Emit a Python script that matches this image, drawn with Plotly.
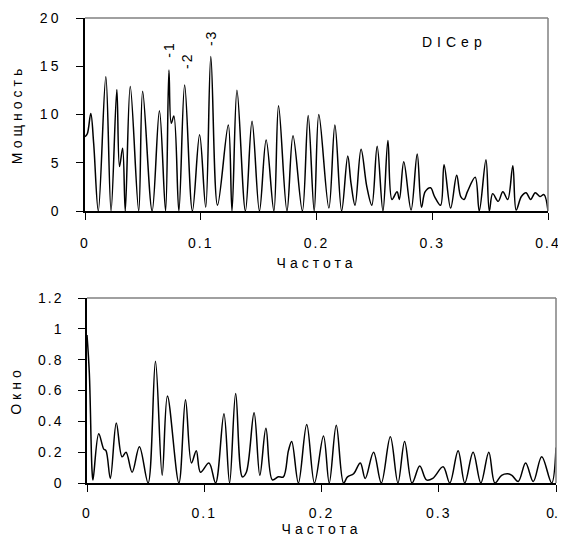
import plotly.graph_objects as go

# ---- Top panel: power spectrum (Мощность vs Частота) ----
freq_top = [0.000, 0.002, 0.005, 0.0075, 0.0115, 0.018, 0.0225, 0.0275, 0.0298, 0.0325,
            0.0348, 0.0391, 0.0464, 0.0498, 0.0580, 0.0643, 0.0696, 0.0725, 0.0745, 0.0768,
            0.0811, 0.0861, 0.0928, 0.0990, 0.1043, 0.1087, 0.1145, 0.1238, 0.1270, 0.1313,
            0.1386, 0.1443, 0.1507, 0.1565, 0.1632, 0.1672, 0.1745, 0.1797, 0.1878, 0.1928,
            0.1980, 0.2020, 0.2107, 0.2159, 0.2217, 0.2270, 0.2298, 0.2333, 0.2385, 0.2435,
            0.2478, 0.2524, 0.2574, 0.2617, 0.2652, 0.2696, 0.2716, 0.2754, 0.2817, 0.2870,
            0.2907, 0.2939, 0.2985, 0.3020, 0.3072, 0.3102, 0.3159, 0.3211, 0.3246, 0.3275,
            0.3304, 0.3371, 0.3406, 0.3464, 0.3493, 0.3522, 0.3570, 0.3610, 0.3652, 0.3696,
            0.3725, 0.3770, 0.3810, 0.3850, 0.3890, 0.3930, 0.3965, 0.4000]
power_top = [7.7, 8.0, 10.1, 7.0, 0.0, 13.9, 0.0, 12.6, 4.6, 6.5,
             0.0, 12.9, 0.0, 12.4, 0.0, 10.4, 0.0, 14.6, 9.1, 9.85,
             0.0, 13.05, 0.0, 7.9, 0.4, 16.0, 0.6, 8.9, 0.0, 12.5,
             0.0, 9.3, 0.0, 7.35, 0.0, 10.9, 0.0, 7.8, 0.0, 9.9,
             0.0, 10.0, 0.3, 8.9, 0.0, 5.7, 2.9, 0.6, 6.4, 2.5,
             0.6, 6.7, 0.0, 7.3, 1.2, 2.0, 1.2, 5.1, 0.1, 5.9,
             0.4, 2.0, 2.4, 1.5, 0.6, 4.8, 0.3, 3.7, 1.5, 1.2,
             2.0, 3.5, 0.0, 5.3, 0.0, 1.8, 1.0, 2.0, 1.2, 4.7,
             0.1, 1.5, 1.9, 1.2, 1.9, 1.5, 1.7, 0.0]

# ---- Bottom panel: spectral window (Окно vs Частота) ----
freq_win = [0.000, 0.002, 0.0043, 0.0051, 0.0100, 0.0143, 0.0162, 0.0199, 0.0250, 0.0299,
            0.0333, 0.0385, 0.0447, 0.0521, 0.0584, 0.0641, 0.0686, 0.0784, 0.0840, 0.0891,
            0.0932, 0.0968, 0.1040, 0.1097, 0.1168, 0.1216, 0.1268, 0.1325, 0.1359, 0.1425,
            0.1474, 0.1526, 0.1581, 0.1632, 0.1675, 0.1718, 0.1746, 0.1803, 0.1874, 0.1940,
            0.2017, 0.2066, 0.2126, 0.2188, 0.2222, 0.2274, 0.2331, 0.2373, 0.2444, 0.2510,
            0.2587, 0.2652, 0.2709, 0.2772, 0.2838, 0.2895, 0.2949, 0.3037, 0.3094, 0.3165,
            0.3222, 0.3293, 0.3359, 0.3427, 0.3479, 0.3536, 0.3590, 0.3624, 0.3678, 0.3741,
            0.3806, 0.3878, 0.3963, 0.4000]
window_vals = [0.96, 0.71, 0.08, 0.02, 0.32, 0.22, 0.21, 0.03, 0.39, 0.17,
               0.20, 0.07, 0.235, 0.0, 0.79, 0.05, 0.565, 0.0, 0.54, 0.13,
               0.21, 0.07, 0.13, 0.0, 0.45, 0.0, 0.58, 0.04, 0.07, 0.455,
               0.05, 0.355, 0.02, 0.04, 0.04, 0.21, 0.27, 0.0, 0.38, 0.0,
               0.305, 0.0, 0.375, 0.0, 0.04, 0.06, 0.13, 0.03, 0.20, 0.0,
               0.30, 0.0, 0.27, 0.0, 0.11, 0.02, 0.03, 0.105, 0.0, 0.21,
               0.0, 0.20, 0.0, 0.20, 0.0, 0.05, 0.06, 0.05, 0.01, 0.13,
               0.01, 0.17, 0.0, 0.23]

# tick labels
x_ticks = [0, 0.1, 0.2, 0.3, 0.4]
x_ticklabels = ["0", "0.1", "0.2", "0.3", "0.4"]
y_top_ticks = [0, 5, 10, 15, 20]
y_top_ticklabels = ["0", "5", "10", "15", "20"]
y_win_ticks = [0, 0.2, 0.4, 0.6, 0.8, 1, 1.2]
y_win_ticklabels = ["0", "0.2", "0.4", "0.6", "0.8", "1", "1.2"]

# peak labels
peak_labels = ["-1", "-2", "-3"]
peak_x = [0.0725, 0.0886, 0.1087]
peak_y = [16.7, 15.5, 17.9]

FONT = "Liberation Sans"


def spaced(t, px):
    return f'<span style="letter-spacing:{px}px">{t}</span>'


fig = go.Figure()
fig.add_trace(go.Scatter(x=freq_top, y=power_top, mode="lines", xaxis="x", yaxis="y",
                         line=dict(color="black", width=1.5, shape="spline", smoothing=1.0),
                         showlegend=False, hoverinfo="skip"))
fig.add_trace(go.Scatter(x=freq_win, y=window_vals, mode="lines", xaxis="x2", yaxis="y2",
                         line=dict(color="black", width=1.5, shape="spline", smoothing=1.0),
                         showlegend=False, hoverinfo="skip"))

# the page body adds an 8px margin, so the figure is drawn 8px in from the corner
OFF = 8
W, H = 566 - OFF, 550 - OFF


def fx(p):
    return (p - OFF) / W


def fy(p):
    return 1 - (p - OFF) / H


axis_common = dict(showgrid=False, zeroline=False, showline=True, linecolor="black",
                   linewidth=1.5, ticks="outside", ticklen=7, tickcolor="black",
                   automargin=False, ticklabeloverflow="allow",
                   tickfont=dict(family=FONT, size=14, color="black"))
title_font = dict(family=FONT, size=14, color="black")

# bottom panel: last label at the very edge is drawn without extra tracking so it fits
bottom_x_text = [spaced(t, 2) for t in x_ticklabels[:-1]] + [x_ticklabels[-1]]

fig.update_layout(
    width=W, height=H, margin=dict(l=0, r=0, t=0, b=0, pad=0),
    paper_bgcolor="white", plot_bgcolor="white",
    font=dict(family=FONT, size=14, color="black"),
    xaxis=dict(domain=[fx(85), fx(548)], range=[0, 0.4], tickvals=x_ticks,
               ticktext=[spaced(t, 2) for t in x_ticklabels], anchor="y",
               ticklabelstandoff=11,
               title=dict(text=spaced("Частота", 4), standoff=9, font=title_font),
               **axis_common),
    yaxis=dict(domain=[fy(211), fy(18)], range=[0, 20], tickvals=y_top_ticks,
               ticktext=[spaced(t, 3) for t in y_top_ticklabels],
               anchor="x", ticklabelstandoff=12,
               title=dict(text=spaced("Мощность", 4), standoff=14, font=title_font),
               **axis_common),
    xaxis2=dict(domain=[fx(87), fx(556)], range=[0, 0.4], tickvals=x_ticks,
                ticktext=bottom_x_text, anchor="y2",
                ticklabelstandoff=9,
                title=dict(text=spaced("Частота", 4), standoff=3, font=title_font),
                **axis_common),
    yaxis2=dict(domain=[fy(483), fy(298)], range=[0, 1.2],
                tickvals=y_win_ticks,
                ticktext=[spaced(t, 2) for t in y_win_ticklabels],
                anchor="x2", ticklabelstandoff=12,
                title=dict(text=spaced("Окно", 4), standoff=14, font=title_font),
                **axis_common),
)

# top and right frame lines (grey)
for xa, ya in (("x", "y"), ("x2", "y2")):
    fig.add_shape(type="line", xref=f"{xa} domain", yref=f"{ya} domain",
                  x0=0, x1=1, y0=1, y1=1, line=dict(color="#808080", width=1.5))
    fig.add_shape(type="line", xref=f"{xa} domain", yref=f"{ya} domain",
                  x0=1, x1=1, y0=0, y1=1, line=dict(color="#808080", width=1.5))

for t, xv, yv in zip(peak_labels, peak_x, peak_y):
    fig.add_annotation(x=xv, y=yv, xref="x", yref="y", text=spaced(t, 2), textangle=-90,
                       showarrow=False, font=dict(family=FONT, size=14, color="black"))

fig.add_annotation(x=0.319, y=17.5, xref="x", yref="y", text=spaced("DICep", 5),
                   showarrow=False, xanchor="center",
                   font=dict(family=FONT, size=14, color="black"))

fig.write_html("out.html")
